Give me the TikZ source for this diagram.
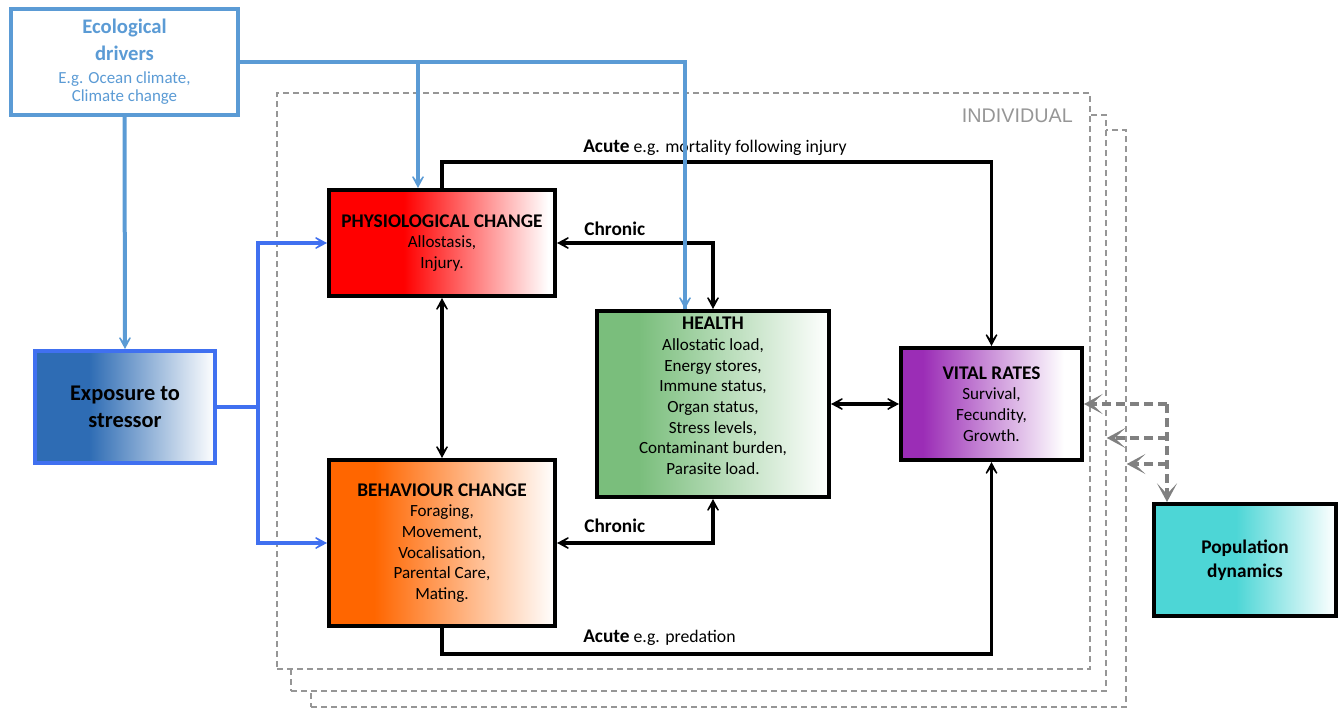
\documentclass[tikz,border=0pt]{standalone}
\usepackage{fontspec}
\setmainfont{Carlito}
\newfontfamily\arialfont{Liberation Sans}
\usetikzlibrary{arrows.meta,calc}
\definecolor{ecoblue}{RGB}{91,155,213}
\definecolor{brightblue}{RGB}{64,112,240}
\definecolor{expoblue}{RGB}{46,108,180}
\definecolor{physred}{RGB}{255,0,0}
\definecolor{healthgreen}{RGB}{122,190,124}
\definecolor{vitalpurple}{RGB}{155,45,182}
\definecolor{behavorange}{RGB}{255,102,0}
\definecolor{popcyan}{RGB}{77,214,214}
\definecolor{dashgray}{RGB}{150,150,150}
\definecolor{arrgray}{RGB}{128,128,128}
\definecolor{indgray}{RGB}{150,150,150}
\newcommand\mkshade[4]{\pgfdeclarehorizontalshading{#1}{100bp}{color(0bp)=(#2); color(#3bp)=(#2); color(#4bp)=(white); color(100bp)=(white)}}
\mkshade{shExpo}{expoblue}{40}{75}
\mkshade{shPhys}{physred}{41.5}{73.5}
\mkshade{shHealth}{healthgreen}{34}{75}
\mkshade{shVital}{vitalpurple}{31}{70}
\mkshade{shBehav}{behavorange}{35}{75}
\mkshade{shPop}{popcyan}{47.5}{75}
\newcommand\ttl{\fontsize{14.5}{17.5}\selectfont\bfseries}
\begin{document}
\begin{tikzpicture}[x=0.75pt,y=-0.75pt,
  box/.style={draw=black, line width=3pt, align=center, inner sep=0pt,
    font=\fontsize{12.8}{15.5}\selectfont},
  sz/.style 2 args={minimum width=#1*0.75pt, minimum height=#2*0.75pt},
  ind/.style={draw=dashgray, line width=1.1pt, dash pattern=on 4.5pt off 3pt, fill=white, inner sep=0pt},
  tipk/.tip={Stealth[length=14pt,width=15pt,inset=10pt]},
  arr/.style={line width=2.7pt, -tipk},
  darr/.style={line width=2.7pt, tipk-tipk},
  barr/.style={draw=ecoblue, line width=3pt, -tipk},
  bline/.style={draw=ecoblue, line width=3pt},
  brarr/.style={draw=brightblue, line width=3pt, -tipk},
  brline/.style={draw=brightblue, line width=3pt},
  garr/.style={draw=arrgray, line width=2.7pt, dash pattern=on 7pt off 3.5pt, -{Stealth[length=14pt,width=15pt,inset=8pt,arrgray]}},
  lbl/.style={font=\fontsize{13.3}{15}\selectfont, inner sep=0pt, anchor=base west}
]
\useasboundingbox (0,0) rectangle (1341,710);

% individual frames
\node[ind, sz={815}{577}] (ind3) at (718.5,418.5) {};
\node[ind, sz={815}{576}] (ind2) at (698.5,403) {};
\node[ind, sz={813}{576}] (ind1) at (683.5,381) {};
\node[anchor=east, text=indgray, font=\arialfont\fontsize{14.8}{17}\selectfont, inner sep=0pt] (indlbl) at (1073,116) {INDIVIDUAL};

% boxes
\node[draw=ecoblue, line width=3pt, fill=white, align=center, inner sep=0pt, sz={227}{106},
  text=ecoblue, font=\fontsize{12.7}{14}\selectfont] (eco) at (124.5,62)
  {{\fontsize{15.5}{20}\selectfont\bfseries Ecological}\\[6pt]{\fontsize{15.5}{20}\selectfont\bfseries drivers}\\[3pt]E.g. Ocean climate,\\Climate change};
\node[box, draw=brightblue, shading=shExpo, sz={180}{112}, font=\fontsize{16.8}{20.5}\selectfont\bfseries] (expo) at (125,407)
  {Exposure to\\stressor};
\node[box, shading=shPhys, sz={226}{106}] (phys) at (442,243)
  {{\ttl PHYSIOLOGICAL CHANGE}\\Allostasis,\\Injury.};
\node[box, shading=shHealth, sz={232}{186}] (health) at (713,404)
  {{\ttl HEALTH}\\Allostatic load,\\Energy stores,\\Immune status,\\Organ status,\\Stress levels,\\Contaminant burden,\\Parasite load.\rule[-12pt]{0pt}{1pt}};
\node[box, shading=shVital, sz={181}{112}] (vital) at (991.5,404)
  {{\ttl VITAL RATES}\\Survival,\\Fecundity,\\Growth.};
\node[box, shading=shBehav, sz={226}{166}] (behav) at (442,543)
  {{\ttl BEHAVIOUR CHANGE}\\Foraging,\\Movement,\\Vocalisation,\\Parental Care,\\Mating.};
\node[box, shading=shPop, sz={182}{112}, font=\fontsize{14.5}{18}\selectfont\bfseries] (pop) at (1245,560)
  {Population\\dynamics};

% black connectors
\draw[arr] (phys.north) -- ++(0,-26) -| (vital.north);
\draw[arr] (behav.south) -- ++(0,26) -| (vital.south);
\draw[darr] (phys.east) -| (health.north);
\draw[darr] (health.south) |- (behav.east);
\draw[darr] (phys.south) -- (behav.north);
\draw[darr] (health.east) -- (vital.west);

% labels
\node[lbl] (lac1) at (583,152) {{\ttl Acute} e.g. mortality following injury};
\node[lbl] (lch1) at (584,235) {\ttl Chronic};
\node[lbl] (lch2) at (584,532) {\ttl Chronic};
\node[lbl] (lac2) at (583,642) {{\ttl Acute} e.g. predation};

% ecological driver connectors
\draw[barr] (eco.south) -- (expo.north);
\coordinate (hin) at ([xshift=-21pt]health.north);
\coordinate (pin) at ([xshift=-18pt]phys.north);
\draw[bline] (eco.east) -| (hin);
\draw[barr] (hin |- eco.east) -- (hin);
\draw[barr] (pin |- eco.east) -- (pin);

% exposure connectors
\coordinate (j) at ($(expo.east)+(41,0)$);
\draw[brline] (expo.east) -- (j);
\draw[brarr] (j) |- (phys.west);
\draw[brarr] (j) |- (behav.west);

% population feedback
\coordinate (g1) at (1167,404);
\coordinate (g2) at (1167,438);
\coordinate (g3) at (1167,464);
\draw[garr] (g1) -- (vital.east);
\draw[garr] (g2) -- (g2 -| ind2.east);
\draw[garr] (g3) -- (g3 -| ind3.east);
\draw[garr] (g1) -- (g1 |- pop.north);
\end{tikzpicture}
\end{document}
